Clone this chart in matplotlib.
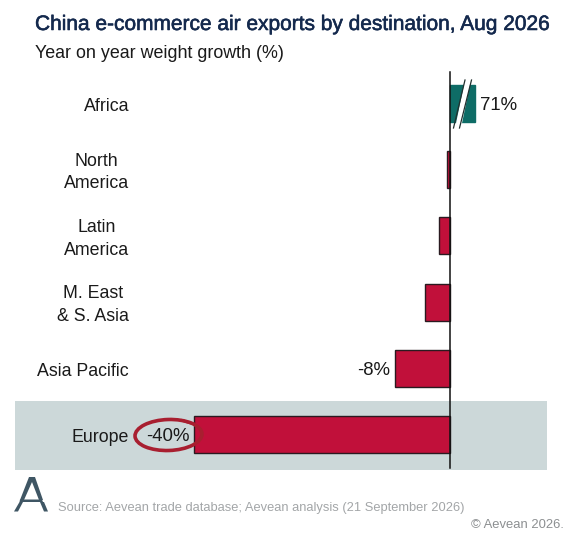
import matplotlib
matplotlib.use('Agg')
import matplotlib.pyplot as plt
import matplotlib.patheffects as pe
from matplotlib.lines import Line2D
from matplotlib.patches import Ellipse, Polygon, Rectangle

plt.rcParams['font.family'] = ['Liberation Sans', 'DejaVu Sans']

W = 567
H = 540
ZERO_X = 450
PX_PER_UNIT = 6.4
FIRST_Y = 103.5
ROW = 66.2

regions = ['Africa', 'North\nAmerica', 'Latin\nAmerica', 'M. East\n& S. Asia', 'Asia Pacific', 'Europe']
growth = [71, -0.4, -1.7, -3.9, -8.6, -40]
labels = ['71%', '', '', '', '-8%', '-40%']
# africa is cut by the axis break, only this much of it gets drawn
africa_drawn = 3.9

RED = '#c1103a'
GREEN = '#0e6c66'
EDGE = '#2a1a20'
TEXT = '#1a1a1a'
SLATE = '#3f5664'
RING = '#a81f30'


def px(x, y):
    # reference pixels (top left origin) to figure fraction
    return x / W, 1 - y / H


fig = plt.figure(figsize=(W / 100, H / 100), dpi=100)
ax = fig.add_axes([0, 0, 1, 1])
ax.set_xlim(-ZERO_X / PX_PER_UNIT, (W - ZERO_X) / PX_PER_UNIT)
ax.set_ylim((H - FIRST_Y) / ROW, -FIRST_Y / ROW)
ax.axis('off')

# grey band behind europe
fig.add_artist(Rectangle(px(15, 470), 532 / W, 69 / H, transform=fig.transFigure,
                         facecolor='#ccd8d9', edgecolor='none', zorder=0))
ax.set_zorder(1)

drawn = [africa_drawn if v > 10 else v for v in growth]
colors = [GREEN if v > 0 else RED for v in growth]
ypos = list(range(len(regions)))
ax.barh(ypos, drawn, height=0.56, color=colors, edgecolor=[GREEN if v > 0 else EDGE for v in growth], linewidth=1.0, zorder=2)

# zero line
ax.add_line(Line2D([0, 0], [(72 - FIRST_Y) / ROW, (468 - FIRST_Y) / ROW], color='#111111', lw=1.1, zorder=4))

# region names
for i, name in enumerate(regions):
    ax.annotate(name, xy=(0, i), xycoords=('axes fraction', 'data'),
                xytext=(129 * 0.72, -2.2), textcoords='offset points',
                ha='right', va='center', ma='center', fontsize=12.8, color=TEXT, linespacing=1.42, zorder=5)

# value labels
ax.annotate(labels[0], xy=(drawn[0], 0), xytext=(3.6, -1.6), textcoords='offset points',
            ha='left', va='center', fontsize=13.4, color=TEXT, zorder=5)
ax.annotate(labels[4], xy=(drawn[4], 4), xytext=(-3.6, -1.6), textcoords='offset points',
            ha='right', va='center', fontsize=13.4, color=TEXT, zorder=5)
ax.annotate(labels[5], xy=(drawn[5], 5), xytext=(-3, -1.6), textcoords='offset points',
            ha='right', va='center', fontsize=13.4, color=TEXT, zorder=5)

# axis break on the africa bar
fig.add_artist(Polygon([px(455, 128), px(461, 128), px(471, 80), px(465, 80)], closed=True,
                       transform=fig.transFigure, facecolor='white', edgecolor='none', zorder=5))
for x0, x1 in [(453.5, 465), (459.5, 471.5)]:
    fig.add_artist(Line2D(*zip(px(x0, 128), px(x1, 80)), transform=fig.transFigure,
                          color='#22302f', lw=0.9, zorder=6))

# hand drawn red ring round the europe label
ring_x, ring_y = px(168.5, 435)
fig.add_artist(Ellipse((ring_x, ring_y), 67 / W, 31 / H, angle=2, transform=fig.transFigure,
                       facecolor='none', edgecolor=RING, lw=2.6, zorder=7))
fig.add_artist(Line2D(*zip(px(182, 420.5), px(194, 424)), transform=fig.transFigure,
                      color=RING, lw=2, zorder=7))

# title block
title = fig.text(*px(35, 24.5), 'China e-commerce air exports by destination, Aug 2026', fontsize=15.05,
                 color='#14294d', ha='left', va='center')
title.set_path_effects([pe.withStroke(linewidth=0.4, foreground='#14294d')])
fig.text(*px(35, 53), 'Year on year weight growth (%)', fontsize=12.9, color=TEXT, ha='left', va='center')

# logo
fig.add_artist(Polygon([px(29, 477), px(35, 477), px(43, 500), px(39, 500), px(32, 482), px(24, 500), px(20, 500)],
                       closed=True, transform=fig.transFigure, facecolor=SLATE, edgecolor='none', zorder=3))
fig.add_artist(Polygon([px(19.5, 502), px(23, 502), px(18, 511.5), px(14, 511.5)],
                       closed=True, transform=fig.transFigure, facecolor=SLATE, edgecolor='none', zorder=3))
fig.add_artist(Polygon([px(20, 499.5), px(42, 499.5), px(43, 502), px(19.5, 502)],
                       closed=True, transform=fig.transFigure, facecolor=SLATE, edgecolor='none', zorder=3))
fig.add_artist(Polygon([px(40, 502), px(44, 502), px(48, 511.5), px(44, 511.5)],
                       closed=True, transform=fig.transFigure, facecolor=SLATE, edgecolor='none', zorder=3))

# footer
fig.text(*px(58, 508), 'Source: Aevean trade database; Aevean analysis (21 September 2026)', fontsize=9.3,
         color='#a3a6a8', ha='left', va='center')
fig.text(*px(564, 525), '© Aevean 2026.', fontsize=9.4, color='#8c8f91', ha='right', va='center')

fig.savefig('out.png', dpi=100)
